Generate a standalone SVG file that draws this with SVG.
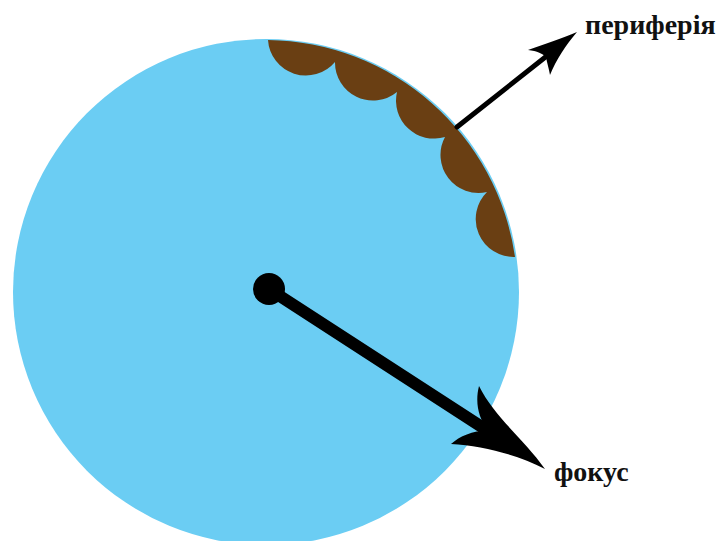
<svg xmlns="http://www.w3.org/2000/svg" width="720" height="541" viewBox="0 0 720 541">
<style>
.label{font-family:"Liberation Serif","Times New Roman",serif;font-weight:bold;font-size:28px;fill:#111}
.shaft{stroke:#000;fill:none;stroke-linecap:round}
.head{fill:#000}
</style>
<rect width="720" height="541" fill="#fff"/>
<g id="sphere">
<circle cx="266" cy="292" r="253" fill="#6BCDF3"/>
</g>
<g id="periphery-zone">
<path d="M268,40 A253,253 0 0 1 515,257 A38,38 0 0 1 487,192 A38,38 0 0 1 445,137 A38,38 0 0 1 397,92 A38,38 0 0 1 335,62 A38,38 0 0 1 268,40 Z" fill="#6A3F13"/>
</g>
<g id="center">
<circle cx="269" cy="289" r="16" fill="#000"/>
</g>
<g id="connectors">
<line class="shaft" x1="457" y1="127" x2="548" y2="55" stroke-width="5"/>
<path class="head" d="M577,32 C563,38 545,44 528,50 C537,51 543,54 546,57 C547,63 549,69 550,75 C556,60 566,45 577,32 Z"/>
<line class="shaft" x1="269" y1="289" x2="485" y2="429" stroke-width="12"/>
<path class="head" d="M545,469 C525,440 495,418 479,386 C475,402 478,418 488,430 C472,431 460,436 451,444 C482,446 516,454 545,469 Z"/>
</g>
<g id="label-periphery">
<text class="label" x="585" y="34">периферія</text>
</g>
<g id="label-focus">
<text class="label" x="554" y="481">фокус</text>
</g>
</svg>
